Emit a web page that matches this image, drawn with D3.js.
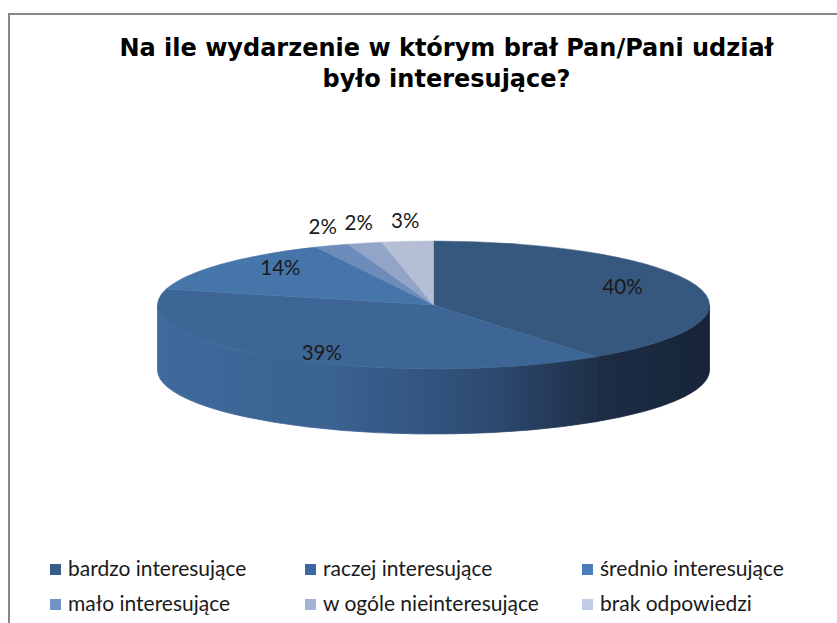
<!DOCTYPE html>
<html>
<head>
<meta charset="utf-8">
<script src="https://cdn.jsdelivr.net/npm/d3@7"></script>
<style>
  html, body { margin: 0; padding: 0; background: #fff; }
  svg { display: block; }
</style>
</head>
<body>
<svg id="chart" width="837" height="623"></svg>
<script>
// ---- data ----
const categories = ["bardzo interesujące", "raczej interesujące", "średnio interesujące",
                    "mało interesujące", "w ogóle nieinteresujące", "brak odpowiedzi"];
const values = [40, 39, 14, 2, 2, 3];
const titleLines = ["Na ile wydarzenie w którym brał Pan/Pani udział", "było interesujące?"];

// ---- styles ----
const topColors = ["#36587F", "#3D6696", "#4675A9", "#6D8CBB", "#92A5C8", "#B4BFD5"];
const legendColors = ["#385D8A", "#3C67A0", "#4A7EBB", "#7393C6", "#A1B4D8", "#C0CCE3"];
const sideStops = [
  [["0", "#1D2D44"], ["1", "#17243A"]],
  [["0", "#3F6A9B"], ["0.4", "#3A6292"], ["0.75", "#2E4B72"], ["1", "#1F3048"]],
  [["0", "#4675A9"], ["1", "#2F5078"]],
  [["0", "#6D8CBB"], ["1", "#4C6690"]],
  [["0", "#92A5C8"], ["1", "#6A7FA3"]],
  [["0", "#B4BFD5"], ["1", "#8591AA"]]
];

const W = 837, H = 623;
const cx = 433.5, cy = 305, rx = 276, ry = 64, depth = 65;

const svg = d3.select("#chart");
const defs = svg.append("defs");

// frame
svg.append("rect")
  .attr("x", 9).attr("y", 14).attr("width", 900).attr("height", 700)
  .attr("fill", "none").attr("stroke", "#878787").attr("stroke-width", 2);

// title
svg.append("g").selectAll("text").data(titleLines).join("text")
  .attr("x", cx + 13).attr("y", (d, i) => 56 + i * 31)
  .attr("text-anchor", "middle")
  .attr("font-family", "'DejaVu Sans', sans-serif")
  .attr("font-weight", "bold").attr("font-size", 24)
  .attr("fill", "#000")
  .text(d => d);

// pie geometry
const pie = d3.pie().sort(null).startAngle(0).endAngle(2 * Math.PI);
const arcs = pie(values).map((d, i) => ({...d, i}));

const pt = (a, k = 1, dy = 0) => [cx + rx * k * Math.sin(a), cy - ry * k * Math.cos(a) + dy];

function topPath(d) {
  const p0 = pt(d.startAngle), p1 = pt(d.endAngle);
  const large = (d.endAngle - d.startAngle) > Math.PI ? 1 : 0;
  return `M${cx},${cy}L${p0[0]},${p0[1]}A${rx},${ry} 0 ${large} 1 ${p1[0]},${p1[1]}Z`;
}

// side walls (front half only: angles PI/2..3PI/2)
const sides = arcs.map(d => {
  const s = Math.max(d.startAngle, Math.PI / 2), e = Math.min(d.endAngle, 3 * Math.PI / 2);
  return e > s ? {s, e, i: d.i} : null;
}).filter(Boolean);

sides.forEach(sd => {
  const a = pt(sd.s), b = pt(sd.e);
  const x1 = Math.max(a[0], b[0]), x2 = Math.min(a[0], b[0]);
  const g = defs.append("linearGradient").attr("id", "side" + sd.i)
    .attr("gradientUnits", "userSpaceOnUse")
    .attr("x1", x2).attr("x2", x1).attr("y1", 0).attr("y2", 0);
  g.selectAll("stop").data(sideStops[sd.i]).join("stop")
    .attr("offset", d => d[0]).attr("stop-color", d => d[1]);
});

svg.append("g").selectAll("path").data(sides).join("path")
  .attr("d", sd => {
    const a = pt(sd.s), b = pt(sd.e), a2 = pt(sd.s, 1, depth), b2 = pt(sd.e, 1, depth);
    return `M${a[0]},${a[1]}A${rx},${ry} 0 0 1 ${b[0]},${b[1]}L${b2[0]},${b2[1]}` +
           `A${rx},${ry} 0 0 0 ${a2[0]},${a2[1]}Z`;
  })
  .attr("fill", sd => `url(#side${sd.i})`)
  .attr("stroke", sd => `url(#side${sd.i})`).attr("stroke-width", 0.8);

svg.append("g").selectAll("path").data(arcs).join("path")
  .attr("d", topPath)
  .attr("fill", d => topColors[d.i])
  .attr("stroke", d => topColors[d.i]).attr("stroke-width", 0.5);

// labels
const labelFont = "Lato, 'Open Sans', sans-serif";
svg.append("g").selectAll("text").data(arcs).join("text")
  .attr("transform", d => {
    const m = (d.startAngle + d.endAngle) / 2;
    const inside = d.value >= 10;
    const x = cx + rx * (inside ? 0.72 : 1.09) * Math.sin(m);
    const y = cy - ry * (inside ? 0.9 : 1.32) * Math.cos(m);
    return `translate(${x},${y})`;
  })
  .attr("text-anchor", "middle").attr("dy", "0.35em")
  .attr("font-family", labelFont).attr("font-size", 20.5)
  .attr("fill", "#1a1a1a")
  .text(d => d.value + "%");

// legend
const colX = [50, 305, 582];
const rowY = [564, 599];
const lg = svg.append("g").selectAll("g").data(categories).join("g")
  .attr("transform", (d, i) => `translate(${colX[i % 3]},${rowY[Math.floor(i / 3)]})`);
lg.append("rect").attr("width", 11).attr("height", 11)
  .attr("fill", (d, i) => legendColors[i]);
lg.append("text").attr("x", 18).attr("y", 12)
  .attr("font-family", labelFont).attr("font-size", 21)
  .attr("fill", "#1a1a1a")
  .text(d => d);
</script>
</body>
</html>
